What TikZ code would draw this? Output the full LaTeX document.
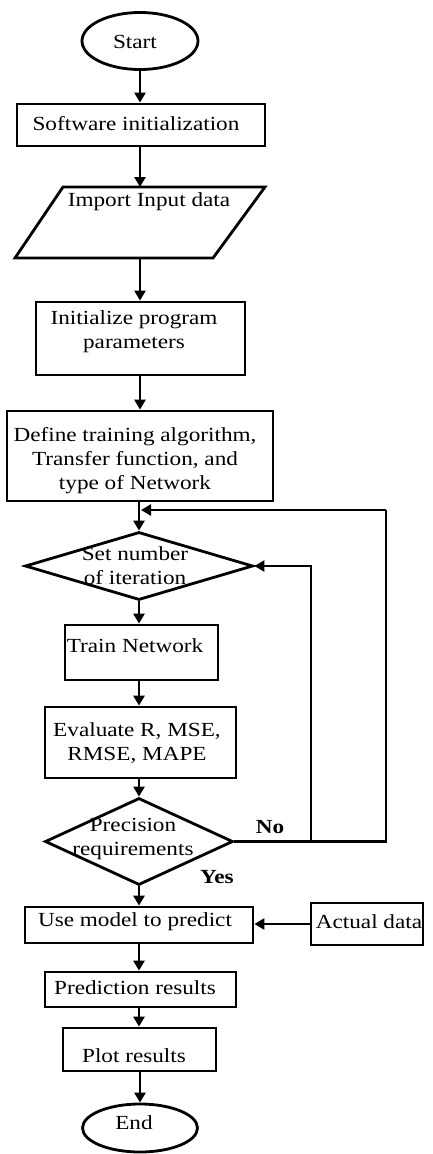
\documentclass[tikz,border=0pt]{standalone}
\usepackage{fontspec}
\setmainfont{Liberation Serif}[FakeStretch=1.16]
\usetikzlibrary{arrows.meta,shapes.geometric}
\begin{document}
\begin{tikzpicture}[x=1pt,y=-1pt,
  lw/.style={line width=2.8pt},
  box/.style={draw,lw,rectangle,inner sep=0pt},
  oval/.style={draw,lw,ellipse,inner sep=0pt},
  dia/.style={draw,lw,diamond,inner sep=0pt},
  txt/.style={inner sep=0pt,align=center,font=\fontsize{20}{24}\selectfont},
  lab/.style={inner sep=0pt,font=\fontsize{20}{24}\selectfont\bfseries},
  arr/.style={lw,-{Triangle[length=10pt,width=11pt]}},
  ln/.style={lw}]
\useasboundingbox (0,0) rectangle (433,1154);
% shapes
\node[oval,minimum width=116pt,minimum height=57pt] (start) at (140,41) {};
\node[txt] (t-start) at (135,42) {Start};
\node[box,minimum width=248pt,minimum height=42pt] (soft) at (141,125) {};
\node[txt] (t-soft) at (136,124) {Software initialization};
\draw[lw,line join=miter] (63,187) -- (265,187) -- (213,258) -- (15,258) -- cycle;
\coordinate (imp-n) at (140,187);
\coordinate (imp-s) at (140,258);
\node[txt] (t-imp) at (149,202) {Import Input data};
\node[box,minimum width=209pt,minimum height=73pt] (init) at (140.5,338.5) {};
\node[txt] (t-init) at (134,332) {Initialize program\\parameters};
\node[box,minimum width=266pt,minimum height=90pt] (def) at (140,456) {};
\node[txt] (t-def) at (135,461) {Define training algorithm,\\Transfer function, and\\type of Network};
\node[dia,minimum width=228pt,minimum height=68pt] (d1) at (139,566) {};
\node[txt] (t-d1) at (135,566) {Set number\\of iteration};
\node[box,minimum width=153pt,minimum height=55pt] (train) at (141.5,652.5) {};
\node[txt] (t-train) at (135,646) {Train Network};
\node[box,minimum width=191pt,minimum height=71pt] (eval) at (140.5,742.5) {};
\node[txt] (t-eval) at (137,743) {Evaluate R, MSE,\\RMSE, MAPE};
\node[dia,minimum width=188pt,minimum height=87pt] (d2) at (139,841.5) {};
\node[txt] (t-d2) at (133,838.5) {Precision\\requirements};
\node[box,minimum width=228pt,minimum height=36pt] (use) at (139,925) {};
\node[txt] (t-use) at (135,922) {Use model to predict};
\node[box,minimum width=112pt,minimum height=42pt] (actual) at (367,924) {};
\node[txt] (t-actual) at (369,922) {Actual data};
\node[box,minimum width=191pt,minimum height=35pt] (pred) at (140.5,989.5) {};
\node[txt] (t-pred) at (135,988) {Prediction results};
\node[box,minimum width=153pt,minimum height=43pt] (plot) at (139.5,1049.5) {};
\node[txt] (t-plot) at (134,1056) {Plot results};
\node[oval,minimum width=115pt,minimum height=48pt] (end) at (140,1128) {};
\node[txt] (t-end) at (134,1123) {End};
% labels
\node[lab] (no) at (270,827) {No};
\node[lab] (yes) at (217,877) {Yes};
% connectors
\coordinate (outer) at (386,510);
\coordinate (merge) at (141,510);
\coordinate (inner) at (311,841.5);
\draw[arr] (start.south) -- (start.south |- soft.north);
\draw[arr] (soft.south -| imp-n) -- (imp-n);
\draw[arr] (imp-s) -- (imp-s |- init.north);
\draw[arr] (init.south -| def.north) -- (def.north);
\draw[arr] (def.south -| d1.north) -- (d1.north);
\draw[arr] (d1.south) -- (d1.south |- train.north);
\draw[arr] (train.south -| d1.south) -- (d1.south |- eval.north);
\draw[arr] (eval.south -| d2.north) -- (d2.north);
\draw[arr] (d2.south) -- (d2.south |- use.north);
\draw[arr] (use.south -| d2.south) -- (d2.south |- pred.north);
\draw[arr] (pred.south -| d2.south) -- (d2.south |- plot.north);
\draw[arr] (plot.south -| end.north) -- (end.north);
\draw[arr] (actual.west) -- (use.east |- actual.west);
\draw[ln] (d2.east) -| (outer);
\draw[arr] (outer) -- (merge);
\draw[arr] (inner) |- (d1.east);
\end{tikzpicture}
\end{document}
